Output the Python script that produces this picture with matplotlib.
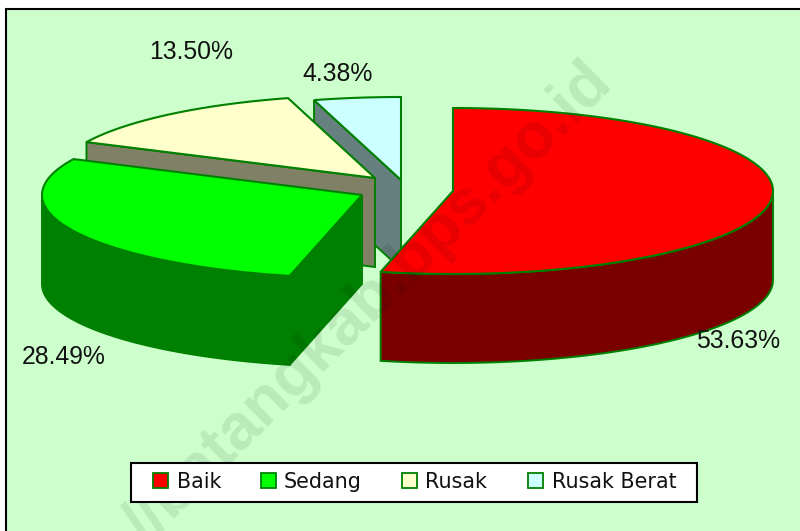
import numpy as np
import matplotlib
matplotlib.use('Agg')
import matplotlib.pyplot as plt
from matplotlib.patches import Polygon, Rectangle

# Chart data
categories = ['Baik', 'Sedang', 'Rusak', 'Rusak Berat']
values = [53.63, 28.49, 13.50, 4.38]
value_labels = ['53.63%', '28.49%', '13.50%', '4.38%']
top_colors = ['#FF0000', '#00FF00', '#FFFFCC', '#CCFFFF']
side_colors = ['#7A0000', '#008000', '#808066', '#668080']

# Layout in pixels
centers = [(453, 191), (362, 195), (375, 178), (401, 180)]
label_pos = [(738, 341), (64, 357), (191, 52), (338, 74)]
swatch_x = [153, 261, 402, 528]
legend_text_x = [177, 284, 425, 552]
rx, ry, depth = 320, 83, 89
edge = '#008000'

fig = plt.figure(figsize=(8, 5.31), dpi=100, facecolor='white')
ax = fig.add_axes([0, 0, 1, 1])
ax.set_xlim(0, 800)
ax.set_ylim(531, 0)
ax.axis('off')

ax.add_patch(Rectangle((6, 9), 900, 600, facecolor='#CCFFCC', edgecolor='black', lw=1.5, zorder=0))


# Point on the ellipse, angle in degrees clockwise from the top
def rim(cx, cy, t):
    t = np.radians(t)
    return cx + rx * np.sin(t), cy - ry * np.cos(t)


# Draws one slice: cut face, outer wall, then the top
def draw_slice(cx, cy, start, end, top, side, z):
    tt = np.linspace(start, end, 120)
    xs, ys = rim(cx, cy, tt)

    # cut faces turned to the viewer
    for a, sign in ((start, -1), (end, 1)):
        if sign * np.sin(np.radians(a)) > 0.01:
            px, py = rim(cx, cy, a)
            face = [(cx, cy), (px, py), (px, py + depth), (cx, cy + depth)]
            ax.add_patch(Polygon(face, facecolor=side, edgecolor=edge, lw=1.4, zorder=z))

    # outer wall, only the front half of the rim
    front = (tt > 90) & (tt < 270)
    if front.any():
        wx, wy = xs[front], ys[front]
        wall = list(zip(wx, wy)) + list(zip(wx[::-1], wy[::-1] + depth))
        ax.add_patch(Polygon(wall, facecolor=side, edgecolor=edge, lw=1.4, zorder=z))

    pts = [(cx, cy)] + list(zip(xs, ys))
    ax.add_patch(Polygon(pts, facecolor=top, edgecolor=edge, lw=1.5, zorder=z + 0.1))


angles = np.cumsum([0] + values) / sum(values) * 360
for i in [3, 2, 1, 0]:
    draw_slice(centers[i][0], centers[i][1], angles[i], angles[i + 1],
               top_colors[i], side_colors[i], 5 - i)

for (x, y), lab in zip(label_pos, value_labels):
    ax.text(x, y, lab, fontsize=17.8, family='Liberation Sans', color='#111111',
            ha='center', va='center', zorder=8)

# Watermark across the picture
ax.text(603, 73, '//batangkab.bps.go.id', fontsize=46, family='Liberation Sans',
        weight='bold', color='black', alpha=0.09, rotation=44.5, rotation_mode='anchor',
        ha='right', va='center', zorder=9)

# Legend
ax.add_patch(Rectangle((131, 463), 566, 39, facecolor='white', edgecolor='black', lw=1.5, zorder=10))
for i, cat in enumerate(categories):
    ax.add_patch(Rectangle((swatch_x[i], 473), 15, 15, facecolor=top_colors[i],
                           edgecolor=edge, lw=1.3, zorder=11))
    ax.text(legend_text_x[i], 482, cat, fontsize=14.9, family='DejaVu Sans', color='#111111',
            ha='left', va='center', zorder=11)

fig.savefig('out.png', dpi=100)
